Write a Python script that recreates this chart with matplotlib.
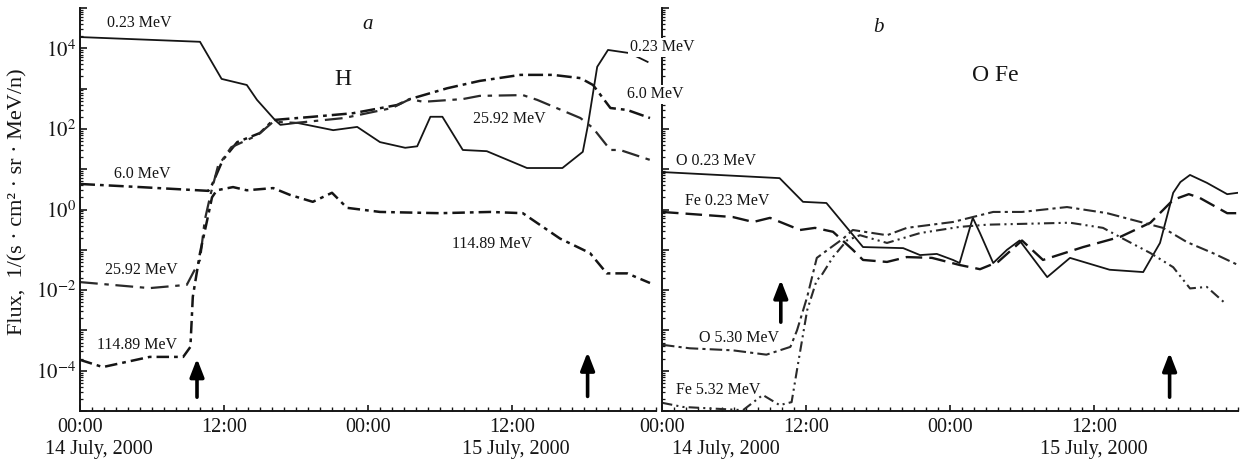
import numpy as np
import matplotlib
matplotlib.use("Agg")
import matplotlib.pyplot as plt
from matplotlib.ticker import FixedLocator, FixedFormatter, MultipleLocator, LogLocator, NullFormatter, FuncFormatter

plt.rcParams['font.family'] = ['Liberation Serif', 'DejaVu Serif']
plt.rcParams['mathtext.fontset'] = 'stix'

# time in hours from 00:00 14 July 2000, flux in 1/(s cm2 sr MeV/n)

# panel a: protons
h023_t = [0, 10, 11.8, 13.9, 14.75, 16.25, 16.7, 18.1, 21.1, 23.1, 25, 27.1, 28.1, 29.2, 30.2,
          31.9, 33.9, 37.25, 40.2, 41.9, 42.3, 43.1, 44, 45.8, 47.3]
h023_f = [1.9e4, 1.45e4, 1.74e3, 1.23e3, 525, 166, 126, 141, 93, 112, 47, 34, 37, 200, 200,
          30, 28, 10.7, 10.7, 27, 112, 3470, 9100, 7600, 4600]

h60_t = [0, 5, 10.7, 11.0, 11.9, 13.1, 15, 16.1, 19.4, 22.75, 26.4, 27.5, 30.6, 33.3, 36.7,
         39.4, 41.7, 42.75, 44.2, 45.6, 47.5]
h60_f = [4.3, 3.6, 2.9, 4.1, 17, 47, 79, 166, 200, 245, 390, 550, 1020, 1550, 2190,
         2190, 1820, 1230, 330, 295, 186]

h2592_t = [0, 5.8, 8.9, 9.4, 10.0, 10.4, 10.9, 11.5, 12.6, 14.8, 16.1, 18, 22, 26, 27.5,
           28.6, 31.9, 33.3, 36.9, 38.1, 41.7, 42.75, 44.2, 45, 47.5]
h2592_f = [0.0158, 0.0112, 0.0135, 0.026, 0.056, 0.55, 2.5, 12, 35, 70, 150, 141, 186, 330, 550,
           470, 550, 660, 690, 525, 186, 105, 30, 30, 17]

h11489_t = [0, 1.9, 5.8, 8.6, 9.2, 9.4, 10.0, 10.6, 11.0, 11.4, 12.75, 13.9, 16.1, 17.5, 19.4,
            21.0, 22.25, 25, 30, 34.2, 36.9, 40, 42.5, 43.9, 45.6, 47.5]
h11489_f = [1.86e-4, 1.23e-4, 2.2e-4, 2.2e-4, 3.9e-4, 6.8e-3, 0.083, 0.55, 2.0, 3.0, 3.6, 3.0, 3.4, 2.3, 1.55,
            2.6, 1.1, 0.87, 0.81, 0.87, 0.81, 0.19, 0.083, 0.026, 0.026, 0.015]

# panel b: oxygen and iron
o023_t = [0, 9.8, 11.75, 13.7, 16.75, 20.1, 21.5, 22.9, 24.25, 24.8, 25.9, 26.5, 27.6, 28.75,
          29.8, 32.1, 34, 37.3, 40.1, 41.5, 42.6, 43.2, 44, 45.4, 47.1, 48]
o023_f = [8.5, 6.0, 1.55, 1.45, 0.117, 0.11, 0.074, 0.079, 0.056, 0.047, 0.62, 0.26, 0.047, 0.1,
          0.17, 0.021, 0.063, 0.032, 0.028, 0.148, 2.6, 4.8, 7.2, 4.6, 2.4, 2.6]

fe023_t = [0, 5.9, 7.6, 9, 11.5, 12.75, 14.25, 15.9, 16.75, 18.75, 20.4, 22.5, 24.8, 26.5, 28,
           30, 31.75, 35.1, 38.2, 40.7, 42.6, 43.9, 44.8, 47.1, 48]
fe023_f = [0.87, 0.65, 0.49, 0.62, 0.31, 0.35, 0.28, 0.10, 0.056, 0.050, 0.066, 0.063, 0.042, 0.033, 0.050,
           0.17, 0.056, 0.117, 0.21, 0.47, 1.74, 2.4, 1.95, 0.81, 0.81]

o530_t = [0, 2.3, 5.9, 8.7, 10.7, 11.25, 12.1, 12.9, 14, 15.1, 15.9, 18.75, 20.4, 24.25, 27.6,
          30, 33.75, 37.1, 40.1, 41.75, 43.75, 45.9, 48]
o530_f = [4.4e-4, 3.6e-4, 3.2e-4, 2.5e-4, 3.9e-4, 1.0e-3, 6.8e-3, 0.063, 0.11, 0.19, 0.31, 0.23, 0.35, 0.49, 0.87,
          0.87, 1.15, 0.81, 0.47, 0.35, 0.155, 0.083, 0.042]

fe532_t = [0, 1.75, 6.75, 8.4, 9.8, 10.8, 11.25, 12.1, 12.9, 13.2, 14.25, 15.4, 16.5, 18.75, 21.5,
           24.8, 27.1, 30, 34, 36.75, 38.4, 40.7, 42.6, 44, 45.4, 46.9]
fe532_f = [1.6e-5, 1.26e-5, 1.05e-5, 2.5e-5, 1.4e-5, 1.66e-5, 1.05e-4, 3.2e-3, 0.018, 0.021, 0.066, 0.17, 0.23, 0.148, 0.26,
           0.37, 0.42, 0.44, 0.47, 0.35, 0.19, 0.083, 0.037, 0.011, 0.012, 4.8e-3]

# event arrows: time, tail flux, head flux
arrows_a = [(9.75, 2.2e-5, 2.0e-4), (42.3, 2.3e-5, 2.9e-4)]
arrows_b = [(9.9, 1.6e-3, 1.8e-2), (42.3, 2.2e-5, 2.8e-4)]

tick_hours = [0, 12, 24, 36]
tick_names = ['00:00', '12:00', '00:00', '12:00']

ink = '#151515'

fig = plt.figure(figsize=(12.44, 4.59), dpi=100)
ax1 = fig.add_axes([80 / 1244, 48 / 459, 576 / 1244, 403 / 459])
ax2 = fig.add_axes([662 / 1244, 48 / 459, 576 / 1244, 403 / 459])
ax1.set_zorder(3)
ax1.patch.set_visible(False)


def dec_label(v, pos):
    e = int(round(np.log10(v)))
    if e in (-4, -2, 0, 2, 4):
        return '$10^{%d}$' % e
    return ''


for ax in (ax1, ax2):
    ax.set_yscale('log')
    ax.set_ylim(1e-5, 1e5)
    ax.set_xlim(0, 48)
    ax.spines[['top', 'right']].set_visible(False)
    for s in ('left', 'bottom'):
        ax.spines[s].set_linewidth(1.4)
        ax.spines[s].set_color(ink)
    ax.xaxis.set_major_locator(FixedLocator(tick_hours))
    ax.xaxis.set_major_formatter(FixedFormatter(tick_names))
    ax.xaxis.set_minor_locator(MultipleLocator(1))
    ax.tick_params(axis='x', which='both', direction='in', labelsize=14.5, pad=5, colors=ink)
    ax.tick_params(axis='x', which='major', length=4, width=1.2)
    ax.tick_params(axis='x', which='minor', length=3, width=1.0)
    ax.yaxis.set_major_locator(LogLocator(base=10, numticks=20))
    ax.yaxis.set_minor_locator(LogLocator(base=10, subs=np.arange(2, 10), numticks=20))
    ax.yaxis.set_minor_formatter(NullFormatter())
    ax.tick_params(axis='y', which='both', direction='in', colors=ink)
    ax.tick_params(axis='y', which='major', length=5, width=1.2, labelsize=15, pad=3)
    ax.tick_params(axis='y', which='minor', length=2.5, width=0.9)

ax1.yaxis.set_major_formatter(FuncFormatter(dec_label))
ax2.yaxis.set_major_formatter(NullFormatter())

# panel a curves
ax1.plot(h023_t, h023_f, color=ink, lw=1.3)
ax1.plot(h60_t, h60_f, color=ink, lw=1.8, dashes=(6, 2, 1.5, 2))
ax1.plot(h2592_t, h2592_f, color='#2a2a2a', lw=1.6, dashes=(8, 3, 2, 3))
ax1.plot(h11489_t, h11489_f, color=ink, lw=1.8, dashes=(5, 2, 1.5, 2))

# panel b curves
ax2.plot(o023_t, o023_f, color=ink, lw=1.3)
ax2.plot(fe023_t, fe023_f, color=ink, lw=1.7, dashes=(7, 3))
ax2.plot(o530_t, o530_f, color='#2a2a2a', lw=1.5, dashes=(6, 2, 1.5, 2))
ax2.plot(fe532_t, fe532_f, color='#2a2a2a', lw=1.5, dashes=(5, 2, 1, 2, 1, 2))

for ax, arrs in ((ax1, arrows_a), (ax2, arrows_b)):
    for t, f0, f1 in arrs:
        ax.annotate('', xy=(t, f1), xytext=(t, f0),
                    arrowprops=dict(arrowstyle='-|>,head_length=0.9,head_width=0.35',
                                    lw=2.6, color='black', shrinkA=0, shrinkB=0,
                                    mutation_scale=12))

lbl = dict(fontsize=11.5, color=ink, ha='center', va='center')
white = dict(facecolor='white', edgecolor='none', pad=1.0)

ax1.text(4.9, 4.3e4, '0.23 MeV', **lbl)
ax1.text(5.2, 7.5, '6.0 MeV', **lbl)
ax1.text(5.1, 0.031, '25.92 MeV', **lbl)
ax1.text(4.75, 4.4e-4, '114.89 MeV', **lbl)
ax1.text(35.75, 180, '25.92 MeV', **lbl)
ax1.text(34.3, 0.14, '114.89 MeV', **lbl)
ax1.text(48.5, 1.05e4, '0.23 MeV', bbox=white, zorder=5, **lbl)
ax1.text(47.9, 730, '6.0 MeV', bbox=white, zorder=5, **lbl)

ax2.text(4.5, 16, 'O 0.23 MeV', **lbl)
ax2.text(5.4, 1.6, 'Fe 0.23 MeV', **lbl)
ax2.text(6.4, 6.5e-4, 'O 5.30 MeV', **lbl)
ax2.text(4.7, 3.3e-5, 'Fe 5.32 MeV', **lbl)

ax1.text(24.0, 4.0e4, 'a', fontsize=15, style='italic', color=ink, ha='center', va='center')
ax2.text(18.0, 3.3e4, 'b', fontsize=15, style='italic', color=ink, ha='center', va='center')
ax1.text(21.9, 1700, 'H', fontsize=17, color=ink, ha='center', va='center')
ax2.text(27.75, 2100, 'O Fe', fontsize=17, color=ink, ha='center', va='center')

date_kw = dict(fontsize=14.5, color=ink, ha='center', va='center')
ax1.text(1.6, -0.095, '14 July, 2000', transform=ax1.get_xaxis_transform(), **date_kw)
ax1.text(36.3, -0.095, '15 July, 2000', transform=ax1.get_xaxis_transform(), **date_kw)
ax2.text(5.3, -0.095, '14 July, 2000', transform=ax2.get_xaxis_transform(), **date_kw)
ax2.text(36.0, -0.095, '15 July, 2000', transform=ax2.get_xaxis_transform(), **date_kw)

fig.text(18 / 1244, 1 - 202 / 459, 'Flux,  1/(s · cm² · sr · MeV/n)', rotation=90,
         fontsize=16, color=ink, ha='center', va='center')

fig.savefig('out.png', dpi=100, facecolor='white')
